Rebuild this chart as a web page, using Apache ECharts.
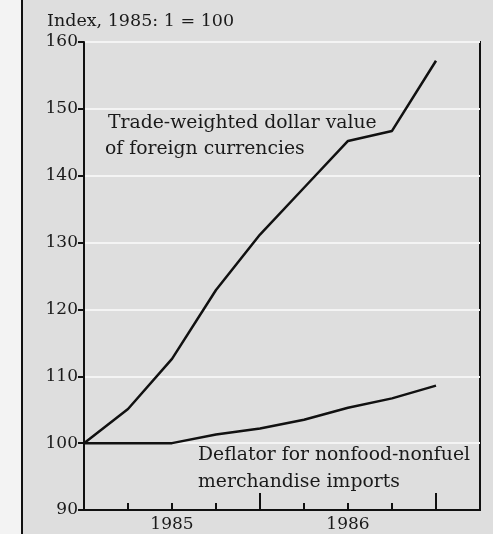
<!DOCTYPE html>
<html>
<head>
<meta charset="utf-8">
<style>
html,body{margin:0;padding:0;background:#dedede;}
#c{width:493px;height:534px;}
</style>
<script src="https://cdn.jsdelivr.net/npm/echarts@6/dist/echarts.min.js"></script>
</head>
<body>
<div id="c"></div>
<script>
// quarterly positions: 0 = 1985:1 ... 8 = 1987:1
var quarters = [0, 1, 2, 3, 4, 5, 6, 7, 8];
var tradeWeighted = [100, 105.1, 112.6, 122.9, 131.2, 138.2, 145.2, 146.7, 157.2];
var deflator = [100, 100, 100, 101.3, 102.2, 103.5, 105.3, 106.7, 108.6];
var yearLabels = {2: '1985', 6: '1986'};
var yTicks = [90, 100, 110, 120, 130, 140, 150, 160];

var FONT = 'DejaVu Serif';
var chart = echarts.init(document.getElementById('c'), null, {renderer: 'canvas'});

function pairs(vals) { return quarters.map(function (q, i) { return [q, vals[i]]; }); }

chart.setOption({
  backgroundColor: '#dedede',
  animation: false,
  grid: {left: 84, right: 13, top: 42, bottom: 24, show: true, borderColor: '#111', borderWidth: 2, backgroundColor: 'transparent'},
  xAxis: [{
    type: 'value', min: 0, max: 9, interval: 1,
    axisLine: {show: true, lineStyle: {color: '#111', width: 2}},
    axisTick: {show: true, inside: true, length: 7, lineStyle: {color: '#111', width: 2}},
    axisLabel: {margin: 6, color: '#1a1a1a', fontFamily: FONT, fontSize: 17,
      formatter: function (v) { return yearLabels[v] || ''; }},
    splitLine: {show: false}
  }, {
    type: 'value', min: 0, max: 9, interval: 4, position: 'bottom',
    axisLine: {show: false},
    axisTick: {show: true, inside: true, length: 17, lineStyle: {color: '#111', width: 2}},
    axisLabel: {show: false},
    splitLine: {show: false}
  }],
  yAxis: {
    type: 'value', min: yTicks[0], max: yTicks[yTicks.length - 1], interval: 10,
    axisLine: {show: true, lineStyle: {color: '#111', width: 2}},
    axisTick: {show: true, length: 6, lineStyle: {color: '#111', width: 2}},
    axisLabel: {margin: 6, color: '#1a1a1a', fontFamily: FONT, fontSize: 17},
    splitLine: {show: true, lineStyle: {color: '#f4f4f4', width: 2}}
  },
  graphic: [
    {type: 'rect', left: 0, top: 0, shape: {width: 22, height: 534}, style: {fill: '#f3f3f3'}, silent: true},
    {type: 'rect', left: 21, top: 0, shape: {width: 2, height: 534}, style: {fill: '#111'}, silent: true},
    {type: 'text', left: 47, top: 12, style: {text: 'Index, 1985: 1 = 100', fill: '#1a1a1a', font: '17.5px "DejaVu Serif"'}},
    {type: 'text', left: 108, top: 114, style: {text: 'Trade-weighted dollar value', fill: '#1a1a1a', font: '18.8px "DejaVu Serif"'}},
    {type: 'text', left: 105, top: 140, style: {text: 'of foreign currencies', fill: '#1a1a1a', font: '18.8px "DejaVu Serif"'}},
    {type: 'text', left: 198, top: 446, style: {text: 'Deflator for nonfood-nonfuel', fill: '#1a1a1a', font: '18.8px "DejaVu Serif"'}},
    {type: 'text', left: 198, top: 473, style: {text: 'merchandise imports', fill: '#1a1a1a', font: '18.8px "DejaVu Serif"'}}
  ],
  series: [{
    type: 'line', name: 'Trade-weighted dollar value of foreign currencies',
    data: pairs(tradeWeighted), showSymbol: false, lineStyle: {color: '#111', width: 2.5}
  }, {
    type: 'line', name: 'Deflator for nonfood-nonfuel merchandise imports',
    data: pairs(deflator), showSymbol: false, lineStyle: {color: '#111', width: 2.5}
  }]
});
</script>
</body>
</html>
